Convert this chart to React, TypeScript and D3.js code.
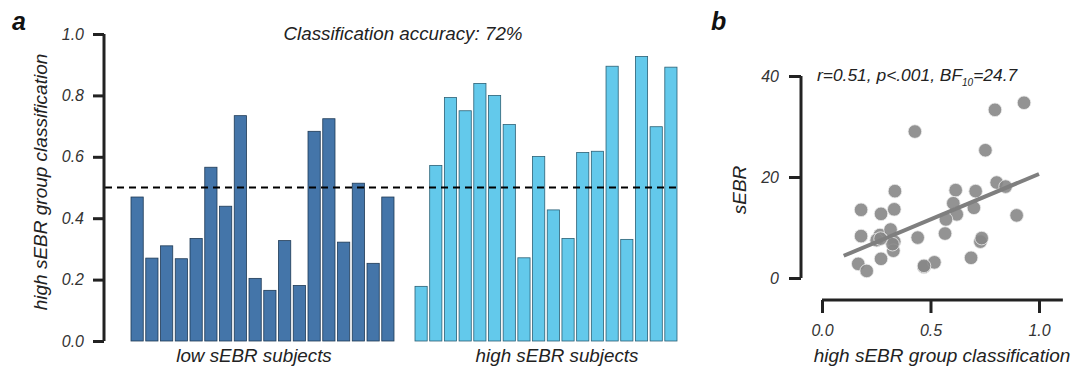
import React, { useEffect, useRef } from "react";
import * as d3 from "d3";

// panel a: classifier output for each subject
const lowSubjects = [0.469, 0.27, 0.31, 0.268, 0.334, 0.566, 0.439, 0.734, 0.204, 0.165, 0.327, 0.181, 0.683, 0.724, 0.322, 0.514, 0.253, 0.469];
const highSubjects = [0.178, 0.572, 0.793, 0.75, 0.839, 0.8, 0.705, 0.271, 0.601, 0.427, 0.334, 0.614, 0.618, 0.895, 0.331, 0.927, 0.698, 0.892];
const barTicks = [0, 0.2, 0.4, 0.6, 0.8, 1.0];
const chance = 0.5;

// panel b: classification vs sEBR
const scatterX = [0.428, 0.797, 0.931, 0.753, 0.336, 0.616, 0.708, 0.805, 0.846, 0.18, 0.272, 0.333, 0.605, 0.7, 0.621, 0.571, 0.897, 0.18, 0.267, 0.316, 0.252, 0.333, 0.329, 0.441, 0.567, 0.73, 0.736, 0.167, 0.206, 0.272, 0.47, 0.518, 0.687, 0.325, 0.27, 0.47];
const scatterY = [29.0, 33.3, 34.7, 25.3, 17.2, 17.4, 17.2, 18.9, 18.1, 13.5, 12.7, 13.6, 14.8, 13.9, 12.6, 11.6, 12.4, 8.3, 8.5, 9.6, 7.5, 7.2, 5.4, 8.0, 8.8, 7.2, 7.9, 2.8, 1.4, 3.8, 2.2, 3.1, 4.0, 6.7, 7.8, 2.4];
const fitX = [0.1, 1.0];
const fitY = [4.4, 20.6];
const scatterXTicks = [0, 0.5, 1.0];
const scatterYTicks = [0, 20, 40];

const FONT = "'Liberation Sans', Arial, sans-serif";

const App = () => {
  const svgRef = useRef<SVGSVGElement>(null);

  useEffect(() => {
    const svg = d3.select(svgRef.current);
    svg.selectAll("*").remove();

    const label = (g, txt, x, y, size, rotate = false) =>
      g.append("text")
        .attr("transform", rotate ? `translate(${x},${y}) rotate(-90)` : `translate(${x},${y})`)
        .attr("text-anchor", "middle")
        .attr("font-family", FONT)
        .attr("font-style", "italic")
        .attr("font-size", size)
        .attr("fill", "#222")
        .text(txt);

    const styleTicks = (g) =>
      g.selectAll(".tick text")
        .attr("font-family", FONT)
        .attr("font-style", "italic")
        .attr("font-size", 16)
        .attr("fill", "#333");

    // ---------- panel a ----------
    const y = d3.scaleLinear().domain([0, 1]).range([341, 34]);
    const xLow = d3.scaleBand<number>().domain(d3.range(lowSubjects.length)).range([131, 394]).paddingInner(0.17);
    const xHigh = d3.scaleBand<number>().domain(d3.range(highSubjects.length)).range([415, 677]).paddingInner(0.17);

    const a = svg.append("g");

    a.selectAll(".low")
      .data(lowSubjects)
      .join("rect")
      .attr("x", (d, i) => xLow(i)!)
      .attr("y", (d) => y(d))
      .attr("width", xLow.bandwidth())
      .attr("height", (d) => y(0) - y(d))
      .attr("fill", "#4475a9")
      .attr("stroke", "#1f3a55")
      .attr("stroke-width", 0.8);

    a.selectAll(".high")
      .data(highSubjects)
      .join("rect")
      .attr("x", (d, i) => xHigh(i)!)
      .attr("y", (d) => y(d))
      .attr("width", xHigh.bandwidth())
      .attr("height", (d) => y(0) - y(d))
      .attr("fill", "#63c9eb")
      .attr("stroke", "#2b6075")
      .attr("stroke-width", 0.8);

    a.append("line")
      .attr("x1", 105)
      .attr("x2", 681)
      .attr("y1", y(chance))
      .attr("y2", y(chance))
      .attr("stroke", "#000")
      .attr("stroke-width", 2)
      .attr("stroke-dasharray", "7,5");

    const yAxis = d3.axisLeft(y).tickValues(barTicks).tickFormat(d3.format(".1f")).tickSize(11).tickPadding(9);
    const ya = a.append("g").attr("transform", "translate(104,0)").call(yAxis);
    ya.select(".domain").attr("stroke", "#222").attr("stroke-width", 3).attr("d", `M0,${y(1)}V${y(0)}`);
    ya.selectAll(".tick line").attr("stroke", "#222").attr("stroke-width", 3);
    styleTicks(ya);

    label(a, "high sEBR group classification", 47, 182, 19, true);
    label(a, "Classification accuracy: 72%", 403, 40, 18.8);
    label(a, "low sEBR subjects", 254, 362, 18.8);
    label(a, "high sEBR subjects", 557, 362, 18.8);

    a.append("text")
      .attr("x", 12)
      .attr("y", 30)
      .attr("font-family", FONT)
      .attr("font-style", "italic")
      .attr("font-weight", "bold")
      .attr("font-size", 25)
      .attr("fill", "#111")
      .text("a");

    // ---------- panel b ----------
    const sx = d3.scaleLinear().domain([0, 1]).range([822, 1039]);
    const sy = d3.scaleLinear().domain([0, 40]).range([278, 76]);
    const b = svg.append("g");

    const syAxis = d3.axisLeft(sy).tickValues(scatterYTicks).tickFormat(d3.format("d")).tickSize(12).tickPadding(10);
    const yb = b.append("g").attr("transform", "translate(801,0)").call(syAxis);
    yb.select(".domain").attr("stroke", "#222").attr("stroke-width", 3).attr("d", `M0,${sy(40)}V${sy(0)}`);
    yb.selectAll(".tick line").attr("stroke", "#222").attr("stroke-width", 3);
    styleTicks(yb);

    const sxAxis = d3.axisBottom(sx).tickValues(scatterXTicks).tickFormat(d3.format(".1f")).tickSize(13).tickPadding(12);
    const xb = b.append("g").attr("transform", "translate(0,300)").call(sxAxis);
    xb.select(".domain").attr("stroke", "#222").attr("stroke-width", 3).attr("d", `M${sx(0)},0H${sx(1.11)}`);
    xb.selectAll(".tick line").attr("stroke", "#222").attr("stroke-width", 3);
    styleTicks(xb);

    b.selectAll("circle")
      .data(scatterX.map((v, i) => [v, scatterY[i]]))
      .join("circle")
      .attr("cx", (d) => sx(d[0]))
      .attr("cy", (d) => sy(d[1]))
      .attr("r", 6.8)
      .attr("fill", "#878787")
      .attr("fill-opacity", 0.9)
      .attr("stroke", "#eee")
      .attr("stroke-width", 0.8);

    const line = d3.line<number>().x((d) => sx(d)).y((d, i) => sy(fitY[i]));
    b.append("path")
      .attr("d", line(fitX))
      .attr("stroke", "#7f7f7f")
      .attr("stroke-width", 4)
      .attr("fill", "none");

    const stat = b.append("text")
      .attr("x", 817)
      .attr("y", 81)
      .attr("font-family", FONT)
      .attr("font-style", "italic")
      .attr("font-size", 17.4)
      .attr("fill", "#222");
    stat.append("tspan").text("r=0.51, p<.001, BF");
    stat.append("tspan").attr("font-size", 10).attr("dy", 5).text("10");
    stat.append("tspan").attr("dy", -5).text("=24.7");

    label(b, "sEBR", 746, 190, 19, true);
    label(b, "high sEBR group classification", 942, 362, 19);

    b.append("text")
      .attr("x", 711)
      .attr("y", 30)
      .attr("font-family", FONT)
      .attr("font-style", "italic")
      .attr("font-weight", "bold")
      .attr("font-size", 25)
      .attr("fill", "#111")
      .text("b");
  }, []);

  return (
    <svg
      ref={svgRef}
      width={1072}
      height={368}
      style={{ position: "absolute", left: 0, top: 0, background: "#fff" }}
    />
  );
};

export default App;
